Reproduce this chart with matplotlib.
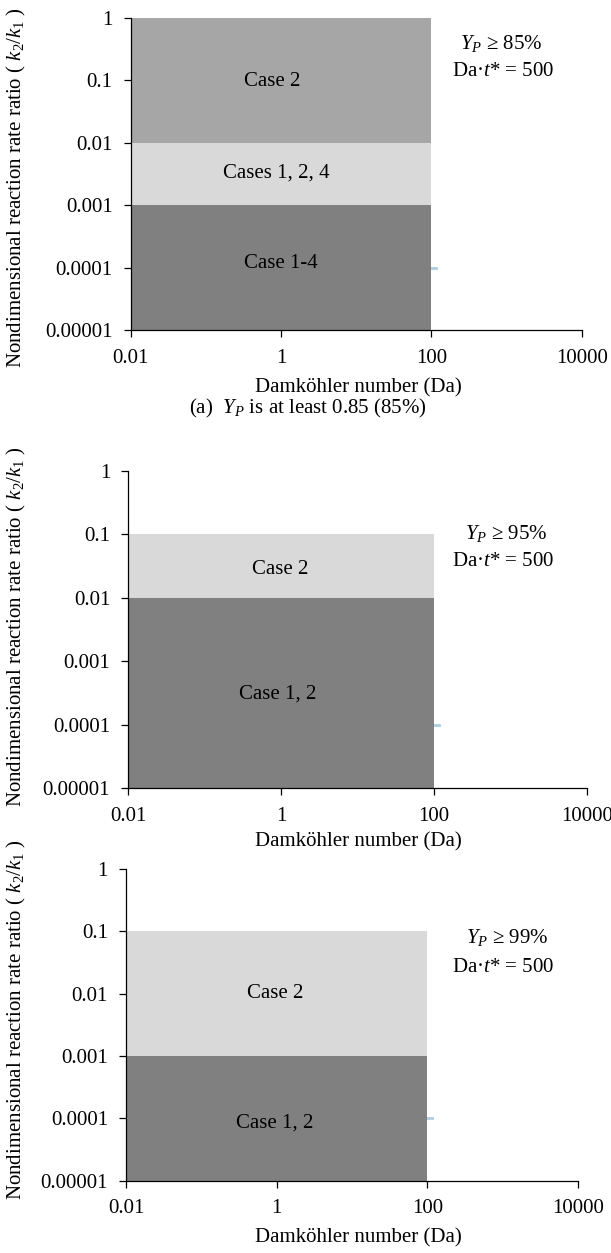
import matplotlib
matplotlib.use("Agg")
import matplotlib.pyplot as plt

plt.rcParams['font.family'] = ['Liberation Serif', 'DejaVu Serif']
plt.rcParams['mathtext.fontset'] = 'custom'
plt.rcParams['mathtext.rm'] = 'Liberation Serif'
plt.rcParams['mathtext.it'] = 'Liberation Serif:italic'

# ---- data ----
da_ticks = [0.01, 1, 100, 10000]
da_tick_labels = ["0.01", "1", "100", "10000"]
k_ticks = [0.00001, 0.0001, 0.001, 0.01, 0.1, 1]
k_tick_labels = ["0.00001", "0.0001", "0.001", "0.01", "0.1", "1"]
da_range = [0.01, 100]

p1_bounds = [0.00001, 0.001, 0.01, 1]
p1_labels = ["Case 1-4", "Cases 1, 2, 4", "Case 2"]
p2_bounds = [0.00001, 0.01, 0.1]
p2_labels = ["Case 1, 2", "Case 2"]
p3_bounds = [0.00001, 0.001, 0.1]
p3_labels = ["Case 1, 2", "Case 2"]
yp_levels = ["85%", "95%", "99%"]
hidden_line_k = 0.0001
hidden_line_da = [0.01, 115]

FS = 15

# ---- layout ----
W, H = 611, 1253
fig = plt.figure(figsize=(W / 100, H / 100), dpi=100)

def px_axes(x0, x1, ytop, ybot):
    return fig.add_axes([x0 / W, 1 - ybot / H, (x1 - x0) / W, (ybot - ytop) / H])

def ftext(x, y, s, **kw):
    fig.text(x / W, 1 - y / H, s, ha='center', va='center', fontsize=FS, **kw)

panels = [
    dict(box=(130.7, 581.7, 18, 330), bounds=p1_bounds, labels=p1_labels,
         colors=['#808080', '#d9d9d9', '#a6a6a6'],
         label_pos=[(281, 263), (276, 173), (272, 81)],
         ann=[(501, 43), (503, 72)], xl_y=388, yl_y=188),
    dict(box=(128.3, 586.7, 470.7, 788.3), bounds=p2_bounds, labels=p2_labels,
         colors=['#808080', '#d9d9d9'],
         label_pos=[(278, 694), (280, 569)],
         ann=[(506, 534), (503, 561)], xl_y=842, yl_y=627),
    dict(box=(126, 578, 869, 1180.7), bounds=p3_bounds, labels=p3_labels,
         colors=['#808080', '#d9d9d9'],
         label_pos=[(275, 1123), (275, 993)],
         ann=[(507, 938), (503, 968)], xl_y=1238, yl_y=1020),
]

for i, p in enumerate(panels):
    x0, x1, yt, yb = p['box']
    ax = px_axes(x0, x1, yt, yb)
    ax.set_xscale('log')
    ax.set_yscale('log')
    ax.set_xlim(da_ticks[0], da_ticks[-1])
    ax.set_ylim(k_ticks[0], k_ticks[-1])
    ax.plot(hidden_line_da, [hidden_line_k] * 2, color='#a9cfe2', lw=2, zorder=1)
    b = p['bounds']
    for j in range(len(b) - 1):
        ax.fill_between(da_range, b[j], b[j + 1], color=p['colors'][j], lw=0, zorder=2)
    ax.set_xticks(da_ticks)
    ax.set_xticklabels(da_tick_labels)
    ax.set_yticks(k_ticks)
    ax.set_yticklabels(k_tick_labels)
    ax.minorticks_off()
    ax.tick_params(direction='out', length=5, width=0.9, labelsize=FS, color='black')
    ax.tick_params(axis='x', pad=8.5)
    ax.tick_params(axis='y', pad=8)
    for s in ['top', 'right']:
        ax.spines[s].set_visible(False)
    for s in ['left', 'bottom']:
        ax.spines[s].set_linewidth(0.9)
        ax.spines[s].set_zorder(5)
    ax.patch.set_alpha(0)

    for (lx, ly), lab in zip(p['label_pos'], p['labels']):
        ftext(lx, ly, lab)
    (ax1, ay1), (ax2, ay2) = p['ann']
    ftext(ax1, ay1, "$Y_P$ ≥ " + yp_levels[i])
    ftext(ax2, ay2, "Da·$t$* = 500")
    ftext(358, p['xl_y'], "Damköhler number (Da)")
    fig.text(16 / W, 1 - p['yl_y'] / H,
             "Nondimensional reaction rate ratio ( $k_2/k_1$ )",
             rotation=90, ha='center', va='center', fontsize=FS)

ftext(308, 408, "(a)  $Y_P$ is at least 0.85 (85%)")

fig.savefig("out.png", dpi=100)
